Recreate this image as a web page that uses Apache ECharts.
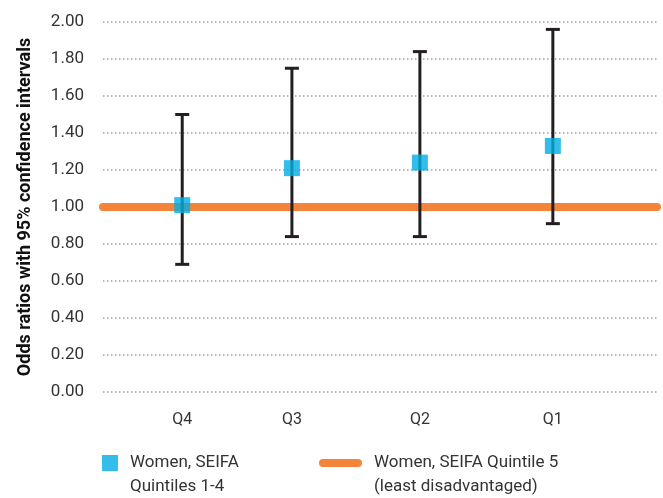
<!DOCTYPE html>
<html>
<head>
<meta charset="utf-8">
<script src="https://cdn.jsdelivr.net/npm/echarts@6/dist/echarts.min.js"></script>
<style>
  html, body { margin: 0; padding: 0; background: #fff; }
  #chart { width: 663px; height: 498px; }
</style>
</head>
<body>
<div id="chart"></div>
<script>
// SEIFA quintile groups and where each sits along the horizontal scale
const quintiles = ['Q4', 'Q3', 'Q2', 'Q1'];
const quintileX = [14.3, 34.1, 57.2, 81.2];

// Odds ratios with 95% confidence intervals
const oddsRatio = [1.01, 1.21, 1.24, 1.33];
const ciLower = [0.69, 0.84, 0.84, 0.91];
const ciUpper = [1.50, 1.75, 1.84, 1.96];

// Reference group (Quintile 5) odds ratio
const referenceOR = 1.00;

const seriesQ14 = 'Women, SEIFA\nQuintiles 1-4';
const seriesQ5 = 'Women, SEIFA Quintile 5\n(least disadvantaged)';

const FONT = 'Roboto';
const TEXT = '#333333';

const chart = echarts.init(document.getElementById('chart'), null, { renderer: 'canvas' });

const pointData = quintileX.map((x, i) => [x, oddsRatio[i]]);
const ciData = quintileX.map((x, i) => [x, ciLower[i], ciUpper[i]]);

// Leading blank line keeps the legend marker level with the first text line
const legendText = {
  fontFamily: FONT, fontSize: 17, color: TEXT,
  lineHeight: 24, padding: [0, 0, 0, 7]
};
const legendFormatter = (name) => '\n' + name;

chart.setOption({
  animation: false,
  grid: { left: 103, right: 6, top: 22, bottom: 106 },
  legend: [
    {
      data: [{ name: seriesQ14, icon: 'rect' }],
      left: 97, top: 422,
      itemWidth: 16, itemHeight: 16,
      formatter: legendFormatter,
      textStyle: legendText
    },
    {
      data: [{ name: seriesQ5, icon: 'path://M4,0 H39 A4,4 0 0 1 39,8 H4 A4,4 0 0 1 4,0 Z' }],
      left: 314, top: 422,
      itemWidth: 43, itemHeight: 8,
      formatter: legendFormatter,
      textStyle: legendText
    }
  ],
  xAxis: {
    type: 'value', min: 0, max: 100,
    axisLine: { show: false }, axisTick: { show: false },
    splitLine: { show: false },
    axisLabel: {
      customValues: quintileX,
      formatter: (v) => quintiles[quintileX.indexOf(v)] || '',
      fontFamily: FONT, fontSize: 16, color: TEXT, margin: 20
    }
  },
  yAxis: {
    type: 'value', min: 0, max: 2, interval: 0.2,
    name: 'Odds ratios with 95% confidence intervals',
    nameLocation: 'middle', nameGap: 69,
    nameTextStyle: { fontFamily: FONT, fontSize: 18, fontWeight: 'bold', color: '#111' },
    axisLine: { show: false }, axisTick: { show: false },
    axisLabel: {
      formatter: (v) => v.toFixed(2),
      fontFamily: FONT, fontSize: 17, color: TEXT, margin: 19
    },
    splitLine: { lineStyle: { color: '#a0a0a0', width: 1.5, type: [1.5, 2.5] } }
  },
  series: [
    {
      name: seriesQ5,
      type: 'line',
      data: [[0, referenceOR], [100, referenceOR]],
      symbol: 'none',
      clip: false,
      color: '#F5843B',
      lineStyle: { color: '#F5843B', width: 8, cap: 'round' },
      z: 1
    },
    {
      name: 'ci',
      type: 'custom',
      data: ciData,
      encode: { x: 0, y: [1, 2] },
      renderItem: (params, api) => {
        const x = api.value(0);
        const top = api.coord([x, api.value(2)]);
        const bot = api.coord([x, api.value(1)]);
        const half = 7;
        const st = { stroke: '#231F20', lineWidth: 3 };
        return {
          type: 'group',
          children: [
            { type: 'line', shape: { x1: top[0], y1: top[1], x2: bot[0], y2: bot[1] }, style: st },
            { type: 'line', shape: { x1: top[0] - half, y1: top[1], x2: top[0] + half, y2: top[1] }, style: st },
            { type: 'line', shape: { x1: bot[0] - half, y1: bot[1], x2: bot[0] + half, y2: bot[1] }, style: st }
          ]
        };
      },
      z: 2
    },
    {
      name: seriesQ14,
      type: 'scatter',
      data: pointData,
      symbol: 'rect',
      symbolSize: 16,
      color: '#00AEE5',
      itemStyle: { color: '#00AEE5' },
      z: 3
    }
  ]
});
</script>
</body>
</html>
